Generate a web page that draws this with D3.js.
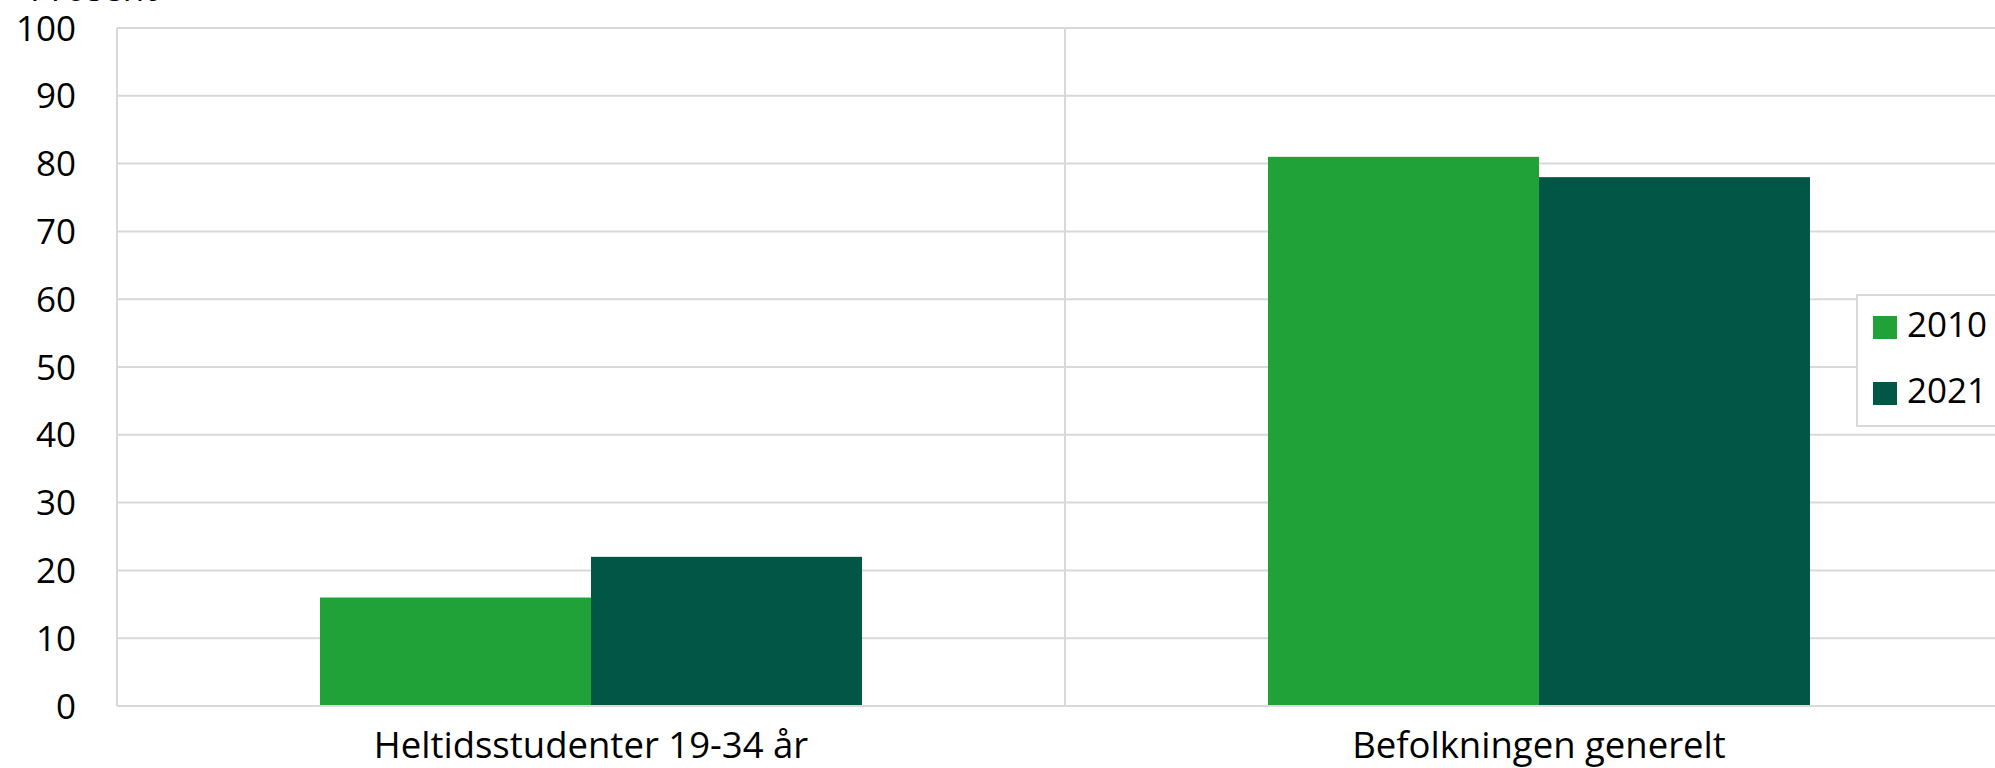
<!DOCTYPE html>
<html><head><meta charset="utf-8">
<script src="https://cdn.jsdelivr.net/npm/d3@7"></script>
<style>body{margin:0;background:#fff;overflow:hidden}svg{display:block}text{font-family:"Open Sans",sans-serif;fill:#000}</style>
</head><body>
<script>
const categories = ["Heltidsstudenter 19-34 år", "Befolkningen generelt"];
const years = ["2010", "2021"];
const values2010 = [16, 81];
const values2021 = [22, 78];
const yTicks = [0, 10, 20, 30, 40, 50, 60, 70, 80, 90, 100];
const colors = ["#21a238", "#025645"];
const unitLabel = "Prosent";

const W = 1995, H = 768;
const m = {left: 117, right: 2013, top: 28, bottom: 706};
const svg = d3.select("body").append("svg").attr("width", W).attr("height", H);

const y = d3.scaleLinear().domain([0, 100]).range([m.bottom, m.top]);
const x0 = d3.scaleBand().domain(categories).range([m.left, m.right]).padding(0);
const x1 = d3.scaleBand().domain(years).range([0, x0.bandwidth()]).paddingInner(0).paddingOuter(0.749);

const grid = "#d9d9d9";
svg.append("g").selectAll("line").data(yTicks).join("line")
  .attr("x1", m.left).attr("x2", m.right)
  .attr("y1", d => y(d)).attr("y2", d => y(d))
  .attr("stroke", grid).attr("stroke-width", 2);
const vx = [m.left, ...categories.map(c => x0(c) + x0.bandwidth())];
svg.append("g").selectAll("line").data(vx).join("line")
  .attr("x1", d => d).attr("x2", d => d)
  .attr("y1", m.top).attr("y2", m.bottom)
  .attr("stroke", grid).attr("stroke-width", 2);

svg.append("g").selectAll("text").data(yTicks).join("text")
  .attr("x", 76).attr("y", d => y(d)).attr("dy", "0.36em")
  .attr("text-anchor", "end").attr("font-size", 35).text(d => d);

svg.append("text").attr("x", 30).attr("y", 0.5).attr("font-size", 35).text(unitLabel);

const series = [values2010, values2021];
years.forEach((yr, i) => {
  svg.append("g").selectAll("rect").data(categories).join("rect")
    .attr("x", (c) => x0(c) + x1(yr))
    .attr("width", x1.bandwidth())
    .attr("y", (c, j) => y(series[i][j]))
    .attr("height", (c, j) => y(0) - y(series[i][j]))
    .attr("fill", colors[i]);
});

svg.append("line").attr("x1", m.left).attr("x2", m.right)
  .attr("y1", y(0)).attr("y2", y(0)).attr("stroke", grid).attr("stroke-width", 2);

svg.append("g").selectAll("text").data(categories).join("text")
  .attr("x", c => x0(c) + x0.bandwidth() / 2).attr("y", 758)
  .attr("text-anchor", "middle").attr("font-size", 36.5).text(c => c);

const lg = svg.append("g");
lg.append("rect").attr("x", 1857).attr("y", 295).attr("width", 160).attr("height", 131)
  .attr("fill", "#fff").attr("stroke", grid).attr("stroke-width", 2);
years.forEach((yr, i) => {
  const top = 316 + i * 66;
  lg.append("rect").attr("x", 1873).attr("y", top).attr("width", 24).attr("height", 23).attr("fill", colors[i]);
  lg.append("text").attr("x", 1907).attr("y", top + 21).attr("font-size", 35).text(yr);
});
</script>
</body></html>
